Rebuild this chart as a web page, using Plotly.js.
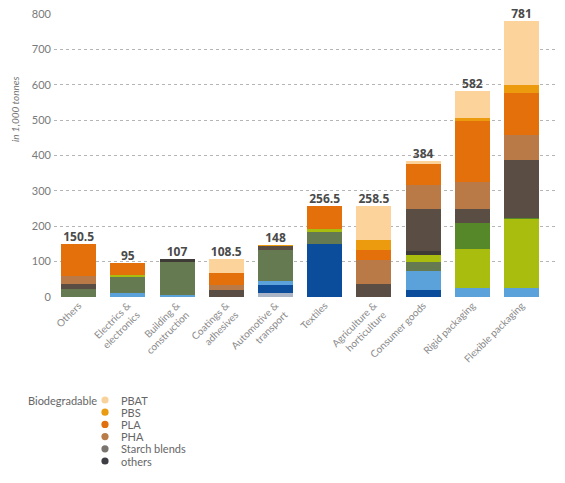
<!DOCTYPE html>
<html>
<head>
<meta charset="utf-8">
<script src="https://cdn.plot.ly/plotly-3.0.1.min.js"></script>
<style>html,body{margin:0;padding:0;background:#fff;}#chart{width:565px;height:483px;}</style>
</head>
<body>
<div id="chart"></div>
<script>
const categories = ["Others", "Electrics &<br>electronics", "Building &<br>construction", "Coatings &<br>adhesives", "Automotive &<br>transport", "Textiles", "Agriculture &<br>horticulture", "Consumer goods", "Rigid packaging", "Flexible packaging"];
const lightGray = [0, 0, 0, 0, 12, 0, 0, 0, 0, 0];
const darkBlue  = [0, 0, 0, 0, 21, 151, 0, 20, 0, 0];
const lightBlue = [0, 11, 6, 0, 12, 0, 0, 53, 25, 25];
const grayGreen = [23, 45, 93, 0, 89, 33, 0, 27, 0, 0];
const lime      = [0, 7, 0, 0, 0, 9, 0, 18, 110, 195];
const green     = [0, 0, 0, 0, 0, 0, 0, 0, 75, 2];
const others    = [0, 0, 8, 0, 0, 0, 0, 11, 0, 0];
const starch    = [14, 0, 0, 21, 10, 0, 37, 121, 38, 164];
const pha       = [21, 0, 0, 14, 0, 0, 69, 66, 76, 73];
const pla       = [91, 32, 0, 34, 0, 63.5, 28, 61, 173, 118];
const pbs       = [0, 0, 0, 0, 4, 0, 26, 0, 8, 23];
const pbat      = [1.5, 0, 0, 39.5, 0, 0, 98.5, 7, 77, 181];
const totals    = [150.5, 95, 107, 108.5, 148, 256.5, 258.5, 384, 582, 781];
const totalLabels = ["150.5", "95", "107", "108.5", "148", "256.5", "258.5", "384", "582", "781"];

const legendTitle = "Biodegradable";
const legendNames = ["PBAT", "PBS", "PLA", "PHA", "Starch blends", "others"];
const legendColors = ["#f8d29c", "#e99c12", "#e0700e", "#b97c48", "#7b7570", "#3e3e44"];

const W = 565, H = 483;
const M = {l: 54, r: 9, t: 14, b: 186};
const plotW = W - M.l - M.r, plotH = H - M.t - M.b;
const px2x = p => (p - M.l) / plotW;
const px2y = p => (H - M.b - p) / plotH;

const x = categories.map((c, i) => i);
const series = [
  ["Bio-PTT", lightGray, "#a9b5c6"],
  ["Bio-PET", darkBlue, "#0b4c9b"],
  ["Bio-PE", lightBlue, "#5ba2da"],
  ["Bio-PA", grayGreen, "#667a52"],
  ["Bio-PE (lime)", lime, "#a8bd0e"],
  ["Bio-PP", green, "#56882a"],
  ["others", others, "#3e3a36"],
  ["Starch blends", starch, "#5a4e44"],
  ["PHA", pha, "#b97a48"],
  ["PLA", pla, "#e3700b"],
  ["PBS", pbs, "#eb9b0d"],
  ["PBAT", pbat, "#fbd39b"]
];

const traces = series.map(s => ({
  type: "bar", name: s[0], x: x, y: s[1],
  marker: {color: s[2], line: {width: 0}},
  showlegend: false, hoverinfo: "y+name"
}));

traces.push({
  type: "scatter", mode: "text", x: x, y: totals, text: totalLabels,
  textposition: "top center", cliponaxis: false, showlegend: false,
  textfont: {family: "Open Sans, sans-serif", size: 12, color: "#4a4a4a", weight: "bold"},
  hoverinfo: "skip"
});

// Legend (custom, compact rows like the reference)
const legRow0 = 400, legStep = 12.2, legDotX = 105, legTextX = 119;
const shapes = [];
const annotations = [{
  text: "<i>in 1,000 tonnes</i>", xref: "paper", yref: "paper",
  x: px2x(15), y: 0.664, xanchor: "center", yanchor: "middle", textangle: -90, showarrow: false,
  font: {size: 10, color: "#777"}
}, {
  text: legendTitle, xref: "paper", yref: "paper", x: px2x(26), y: px2y(legRow0),
  xanchor: "left", yanchor: "middle", showarrow: false,
  font: {size: 11, color: "#666"}
}];
legendNames.forEach((n, i) => {
  const cy = legRow0 + i * legStep;
  shapes.push({
    type: "circle", xref: "paper", yref: "paper",
    xsizemode: "pixel", ysizemode: "pixel",
    xanchor: px2x(legDotX), yanchor: px2y(cy),
    x0: -3.6, x1: 3.6, y0: -3.6, y1: 3.6,
    fillcolor: legendColors[i], line: {width: 0}
  });
  annotations.push({
    text: n, xref: "paper", yref: "paper", x: px2x(legTextX), y: px2y(cy),
    xanchor: "left", yanchor: "middle", showarrow: false,
    font: {size: 11, color: "#666"}
  });
});

const layout = {
  width: W, height: H,
  margin: {l: M.l, r: M.r, t: M.t, b: M.b, autoexpand: false},
  barmode: "stack", bargap: 0.29,
  showlegend: false,
  paper_bgcolor: "#ffffff", plot_bgcolor: "#ffffff",
  font: {family: "Lato, Open Sans, sans-serif", color: "#777"},
  xaxis: {
    range: [-0.5, 9.7], tickvals: x, ticktext: categories, tickangle: -45,
    showgrid: false, zeroline: false, showline: false, ticks: "",
    tickfont: {size: 10, color: "#8a8a8a"}
  },
  yaxis: {
    range: [0, 800], dtick: 100, showgrid: true, gridcolor: "#b5b5b5",
    griddash: "dot", gridwidth: 1, zeroline: false, showline: false, ticks: "",
    tickfont: {size: 11, color: "#7a7a7a"}, ticklabelstandoff: 2
  },
  shapes: shapes,
  annotations: annotations
};

Plotly.newPlot("chart", traces, layout, {displayModeBar: false, staticPlot: true});
</script>
</body>
</html>
